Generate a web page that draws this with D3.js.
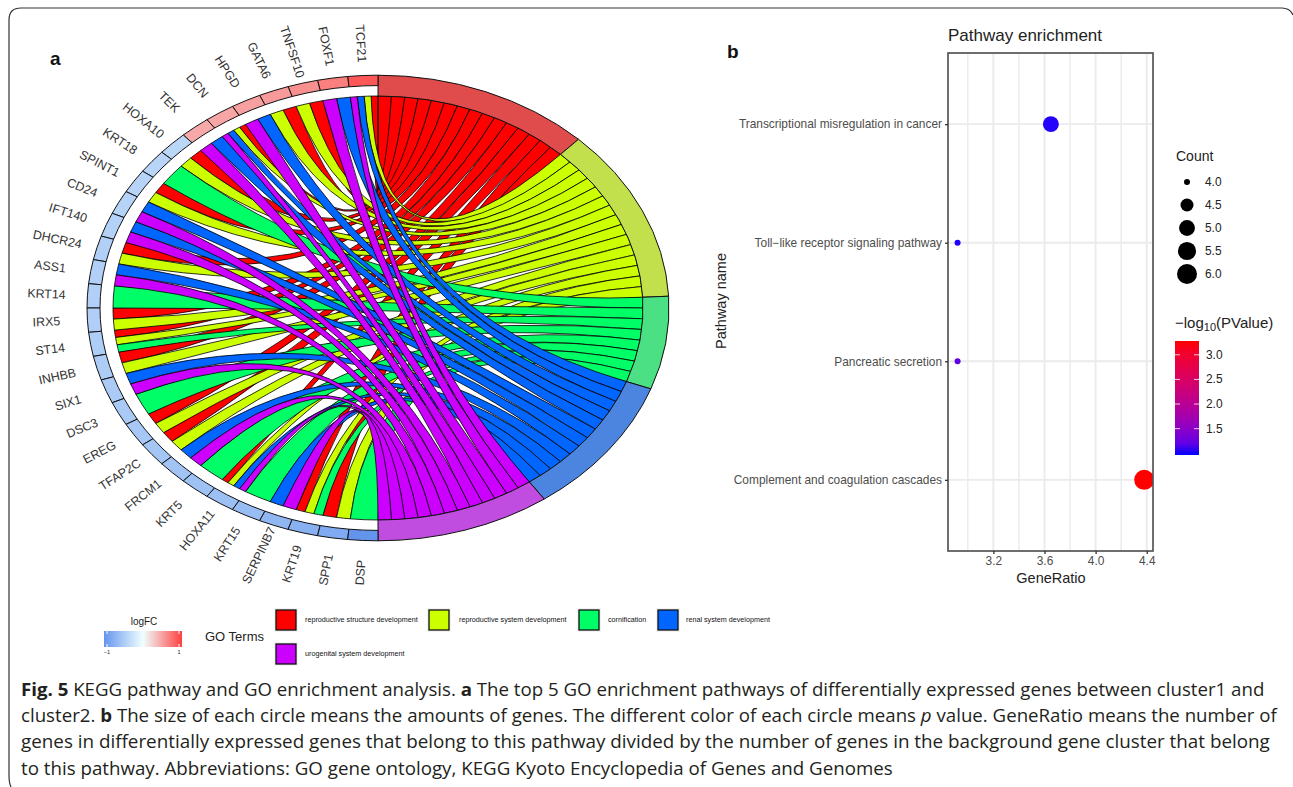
<!DOCTYPE html>
<html><head><meta charset="utf-8">
<script src="https://cdn.jsdelivr.net/npm/d3@7"></script>
<style>html,body{margin:0;padding:0;background:#fff}svg{display:block}text{font-family:"Liberation Sans",Arial,sans-serif}</style>
</head><body><svg id="c" width="1293" height="787"></svg>
<script>
const genes=["TCF21","FOXF1","TNFSF10","GATA6","HPGD","DCN","TEK","HOXA10","KRT18","SPINT1","CD24","IFT140","DHCR24","ASS1","KRT14","IRX5","ST14","INHBB","SIX1","DSC3","EREG","TFAP2C","FRCM1","KRT5","HOXA11","KRT15","SERPINB7","KRT19","SPP1","DSP"];
const logFC=[0.88,0.67,0.58,0.53,0.50,0.47,0.45,-0.38,-0.40,-0.41,-0.42,-0.43,-0.44,-0.44,-0.45,-0.46,-0.47,-0.48,-0.49,-0.50,-0.52,-0.54,-0.56,-0.58,-0.60,-0.63,-0.68,-0.74,-0.80,-1.0];
const geneTerms=["RYBP","BP","RY","RY","BP","RYBP","BP","RY","G","RY","BP","BP","RY","BP","G","RY","RYG","RY","BP","G","RY","RY","BP","G","RYBP","G","BP","RYG","RY","G"];
const termKeys=["R","Y","G","B","P"];
const termNames=["reproductive structure development","reproductive system development","cornification","renal system development","urogenital system development"];
const termColors=["#FF0000","#CCFF00","#00FF66","#0066FF","#CC00FF"];
const termRing=["#E04C4C","#C1E04C","#4CE085","#4C85E0","#C04CE0"];
const fcStops=["#6495ED","#F0FFFF","#FF4040"];
const pathways=["Transcriptional misregulation in cancer","Toll\u2212like receptor signaling pathway","Pancreatic secretion","Complement and coagulation cascades"];
const geneRatio=[3.65,2.92,2.92,4.38];
const counts=[5,4,4,6];
const logP=[1.0,0.99,1.2,3.28];
const xTicks=[3.2,3.6,4.0,4.4];
const xMinor=[3.0,3.4,3.8,4.2];
const countLegend=[4.0,4.5,5.0,5.5,6.0];
const pTicks=[3.0,2.5,2.0,1.5];
const captionLines=[
 [["Fig. 5","b"],[" KEGG pathway and GO enrichment analysis. ","n"],["a","b"],[" The top 5 GO enrichment pathways of differentially expressed genes between cluster1 and","n"]],
 [["cluster2. ","n"],["b","b"],[" The size of each circle means the amounts of genes. The different color of each circle means ","n"],["p","i"],[" value. GeneRatio means the number of","n"]],
 [["genes in differentially expressed genes that belong to this pathway divided by the number of genes in the background gene cluster that belong","n"]],
 [["to this pathway. Abbreviations: GO gene ontology, KEGG Kyoto Encyclopedia of Genes and Genomes","n"]]
];
const captionWidths=[1244,1257,1250,872];

const svg=d3.select("#c");
// frame
svg.append("path").attr("d","M11,787 Q9,783 9,775 L9,20 Q9,8 21,8 L1282,8 Q1290,8 1293,15").attr("fill","none").attr("stroke","#333").attr("stroke-width",1.2);

/* ---------- chord ---------- */
const cx=378,cy=308,RO=291,RG=278,RI=265,sq=0.8,rad=Math.PI/180;
const fc=d3.scaleLinear().domain([-1,0,1]).range(fcStops);
const g=svg.append("g").attr("transform",`translate(${cx},${cy}) scale(1,${sq})`);
const unit=180/d3.sum(geneTerms,s=>s.length);
const pt=(a,r)=>[r*Math.sin(a),-r*Math.cos(a)];
const ribbons=[];
termKeys.forEach((k,ti)=>{ribbons[ti]=[];});
genes.forEach((gn,i)=>{
  const n=geneTerms[i].length;
  [...geneTerms[i]].forEach((k,j)=>{
    ribbons[termKeys.indexOf(k)].push({gene:i,g0:(i*6+j*6/n),g1:(i*6+(j+1)*6/n)});
  });
});
let acc=0;const termSpans=[];
ribbons.forEach((list,ti)=>{
  const start=acc;
  list.forEach(r=>{r.t0=acc;r.t1=acc+unit;acc+=unit;});
  termSpans.push([start,acc]);
});
const ribbonPath=r=>{
  const p=d3.path();
  const t0=r.t0*rad,t1=r.t1*rad,a1=(360-r.g1)*rad,a0=(360-r.g0)*rad;
  const s=pt(t0,RI);p.moveTo(s[0],s[1]);
  p.arc(0,0,RI,t0-Math.PI/2,t1-Math.PI/2,false);
  const e=pt(a1,RI);p.quadraticCurveTo(0,0,e[0],e[1]);
  p.arc(0,0,RI,a1-Math.PI/2,a0-Math.PI/2,false);
  p.quadraticCurveTo(0,0,s[0],s[1]);p.closePath();
  return p.toString();
};
ribbons.forEach((list,ti)=>{
  g.append("g").selectAll("path").data(list).join("path")
   .attr("d",ribbonPath).attr("fill",termColors[ti]).attr("stroke","#000").attr("stroke-width",0.8)
   .attr("vector-effect","non-scaling-stroke");
});
const arc=d3.arc();
g.append("g").selectAll("path").data(termSpans).join("path")
 .attr("d",d=>arc({innerRadius:RI,outerRadius:RO,startAngle:d[0]*rad,endAngle:d[1]*rad}))
 .attr("fill",(d,i)=>termRing[i]).attr("stroke","#111").attr("stroke-width",1).attr("vector-effect","non-scaling-stroke");
g.append("g").selectAll("path").data(genes).join("path")
 .attr("d",(d,i)=>arc({innerRadius:RG,outerRadius:RO,startAngle:(360-(i+1)*6)*rad,endAngle:(360-i*6)*rad}))
 .attr("fill",(d,i)=>fc(logFC[i])).attr("stroke","#111").attr("stroke-width",1).attr("vector-effect","non-scaling-stroke");
const LX=332,LY=265;
svg.append("g").selectAll("text").data(genes).join("text")
 .attr("transform",(d,i)=>{
   const a=(i*6+3)*rad;
   const x=cx-LX*Math.sin(a),y=cy-LY*Math.cos(a);
   const rot=Math.atan(sq*Math.cos(a)/Math.sin(a))/rad;
   return `translate(${x},${y}) rotate(${rot})`;
 })
 .attr("text-anchor","middle").attr("dominant-baseline","central")
 .attr("font-size",12.4).attr("fill","#333").text(d=>d);
svg.append("text").attr("x",50).attr("y",65).attr("font-size",19).attr("font-weight","bold").attr("fill","#111").text("a");
svg.append("text").attr("x",727).attr("y",58).attr("font-size",19).attr("font-weight","bold").attr("fill","#111").text("b");

/* ---------- chord legends ---------- */
const defs=svg.append("defs");
const lg=defs.append("linearGradient").attr("id","fcg");
d3.range(0,1.001,0.1).forEach(t=>lg.append("stop").attr("offset",t).attr("stop-color",fc(t*2-1)));
const barX=d3.scaleLinear().domain([-1,1]).range([107,179]);
svg.append("rect").attr("x",104).attr("y",631).attr("width",78).attr("height",16).attr("fill","url(#fcg)");
svg.append("text").attr("x",144).attr("y",625).attr("text-anchor","middle").attr("font-size",10).attr("fill","#222").text("logFC");
[-1,1].forEach(v=>{
  svg.append("line").attr("x1",barX(v)).attr("x2",barX(v)).attr("y1",631).attr("y2",634).attr("stroke","#fff");
  svg.append("line").attr("x1",barX(v)).attr("x2",barX(v)).attr("y1",644).attr("y2",647).attr("stroke","#fff");
  svg.append("text").attr("x",barX(v)).attr("y",654).attr("text-anchor","middle").attr("font-size",5.5).attr("fill","#222").text(v<0?"\u22121":"1");
});
svg.append("text").attr("x",205).attr("y",641).attr("font-size",13).attr("fill","#222").text("GO Terms");
const legendPos=[[274,608],[427,608],[577,608],[656,608],[274,642]];
const lk=svg.append("g").selectAll("g").data(termNames).join("g").attr("transform",(d,i)=>`translate(${legendPos[i][0]},${legendPos[i][1]})`);
lk.append("rect").attr("width",24).attr("height",24).attr("fill","#F2F2F2");
lk.append("rect").attr("x",2).attr("y",2).attr("width",20).attr("height",20).attr("fill",(d,i)=>termColors[i]).attr("stroke","#111").attr("stroke-width",1.3);
lk.append("text").attr("x",(d,i)=>[31,32,31,30,31][i]).attr("y",14).attr("font-size",7.2).attr("fill","#111").text(d=>d);

/* ---------- dot plot ---------- */
const L=948,Rr=1153,T=53,B=551;
const x=d3.scaleLinear().domain([2.845,4.449]).range([L,Rr]);
const y=d3.scalePoint().domain(pathways).range([T,B]).padding(0.6);
const rS=d3.scaleLinear().domain([0,1]).range([3,10]);
const rOf=c=>rS(Math.sqrt((c-4)/2));
const pc=d3.scaleLinear().domain([0.965,3.28]).range(["#0000FF","#FF0000"]).interpolate(d3.interpolateLab);
const grid=svg.append("g").attr("stroke","#EBEBEB");
xMinor.forEach(v=>grid.append("line").attr("x1",x(v)).attr("x2",x(v)).attr("y1",T).attr("y2",B).attr("stroke-width",1.4));
xTicks.forEach(v=>grid.append("line").attr("x1",x(v)).attr("x2",x(v)).attr("y1",T).attr("y2",B).attr("stroke-width",1.9));
pathways.forEach(p=>grid.append("line").attr("x1",L).attr("x2",Rr).attr("y1",y(p)).attr("y2",y(p)).attr("stroke-width",1.9));
defs.append("clipPath").attr("id","pn").append("rect").attr("x",L).attr("y",T).attr("width",Rr-L).attr("height",B-T);
svg.append("g").attr("clip-path","url(#pn)").selectAll("circle").data(pathways).join("circle")
 .attr("cx",(d,i)=>x(geneRatio[i])).attr("cy",d=>y(d)).attr("r",(d,i)=>rOf(counts[i])).attr("fill",(d,i)=>pc(logP[i]));
svg.append("rect").attr("x",L).attr("y",T).attr("width",Rr-L).attr("height",B-T).attr("fill","none").attr("stroke","#555").attr("stroke-width",1.7);
const ax=svg.append("g").attr("transform",`translate(0,${B})`).call(d3.axisBottom(x).tickValues(xTicks).tickFormat(d3.format(".1f")).tickSize(3).tickPadding(3));
const ay=svg.append("g").attr("transform",`translate(${L},0)`).call(d3.axisLeft(y).tickSize(3).tickPadding(3));
[ax,ay].forEach(a=>{a.select(".domain").remove();a.selectAll("line").attr("stroke","#333").attr("stroke-width",1.3);
  a.selectAll("text").attr("font-size",11.9).attr("fill","#4D4D4D").style("font-family",'"Liberation Sans"');});
svg.append("text").attr("x",948).attr("y",41).attr("font-size",17).attr("fill","#222").text("Pathway enrichment");
svg.append("text").attr("x",1051).attr("y",583).attr("text-anchor","middle").attr("font-size",14.5).attr("fill","#222").text("GeneRatio");
svg.append("text").attr("transform","translate(726,301) rotate(-90)").attr("text-anchor","middle").attr("font-size",14.5).attr("fill","#222").text("Pathway name");
svg.append("text").attr("x",1176).attr("y",161).attr("font-size",14).attr("fill","#222").text("Count");
const ly=d3.scaleLinear().domain([4,6]).range([182,274]);
countLegend.forEach(c=>{
  svg.append("circle").attr("cx",1187).attr("cy",ly(c)).attr("r",rOf(c)).attr("fill","#000");
  svg.append("text").attr("x",1205).attr("y",ly(c)+4).attr("font-size",11.9).attr("fill","#222").text(c.toFixed(1));
});
const t2=svg.append("text").attr("x",1175).attr("y",328).attr("font-size",15).attr("fill","#222");
t2.append("tspan").text("\u2212log");
t2.append("tspan").attr("dy",3).attr("font-size",11).text("10");
t2.append("tspan").attr("dy",-3).text("(PValue)");
const pg=defs.append("linearGradient").attr("id","pg").attr("x1",0).attr("x2",0).attr("y1",1).attr("y2",0);
d3.range(0,1.001,0.1).forEach(t=>pg.append("stop").attr("offset",t).attr("stop-color",pc(0.965+t*(3.28-0.965))));
const py=d3.scaleLinear().domain([0.965,3.28]).range([455,341]);
svg.append("rect").attr("x",1175).attr("y",341).attr("width",24).attr("height",114).attr("fill","url(#pg)");
pTicks.forEach(v=>{
  [[1175,1180],[1194,1199]].forEach(s=>svg.append("line").attr("x1",s[0]).attr("x2",s[1]).attr("y1",py(v)).attr("y2",py(v)).attr("stroke","#fff").attr("stroke-width",.8));
  svg.append("text").attr("x",1206).attr("y",py(v)+4).attr("font-size",11.9).attr("fill","#222").text(v.toFixed(1));
});

/* ---------- caption ---------- */
const capY=[696,722,748,775];
captionLines.forEach((line,i)=>{
  const t=svg.append("text").attr("font-size",18).attr("fill","#231F20").attr("xml:space","preserve").style("font-family",'"Open Sans"').style("white-space","pre");
  line.forEach(s=>{
    const ts=t.append("tspan").text(s[0]);
    if(s[1]==="b")ts.attr("font-weight","bold");
    if(s[1]==="i")ts.attr("font-style","italic");
  });
  const w=t.node().getComputedTextLength();
  t.attr("transform",`translate(21,${capY[i]}) scale(${captionWidths[i]/w},1)`);
});
</script></body></html>
